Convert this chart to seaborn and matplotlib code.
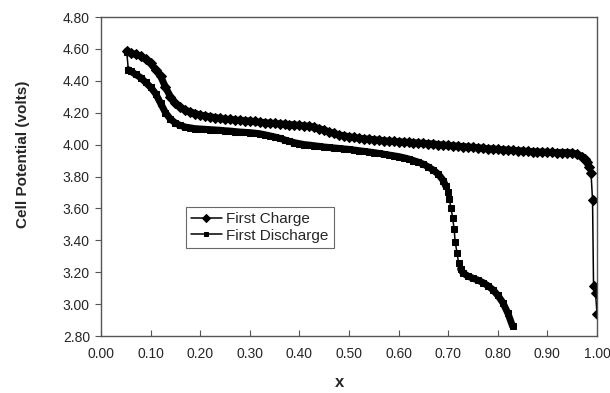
import numpy as np
import pandas as pd
import seaborn as sns
import matplotlib.pyplot as plt

sns.set_style('ticks')
plt.rcParams['font.family'] = ['Liberation Sans', 'DejaVu Sans']

# First charge (upper curve)
charge_x = [0.052, 0.06, 0.07, 0.08, 0.09, 0.10, 0.11, 0.12, 0.13, 0.14,
            0.15, 0.16, 0.17, 0.18, 0.19, 0.20, 0.21, 0.22, 0.23, 0.24,
            0.25, 0.26, 0.27, 0.28, 0.29, 0.30, 0.31, 0.32, 0.33, 0.34,
            0.35, 0.36, 0.37, 0.38, 0.39, 0.40, 0.41, 0.42, 0.43, 0.44,
            0.45, 0.46, 0.47, 0.48, 0.49, 0.50, 0.51, 0.52, 0.53, 0.54,
            0.55, 0.56, 0.57, 0.58, 0.59, 0.60, 0.61, 0.62, 0.63, 0.64,
            0.65, 0.66, 0.67, 0.68, 0.69, 0.70, 0.71, 0.72, 0.73, 0.74,
            0.75, 0.76, 0.77, 0.78, 0.79, 0.80, 0.81, 0.82, 0.83, 0.84,
            0.85, 0.86, 0.87, 0.88, 0.89, 0.90, 0.91, 0.92, 0.93, 0.94,
            0.95, 0.96, 0.97, 0.975, 0.98, 0.984, 0.988, 0.991, 0.993, 0.997,
            1.000]
charge_v = [4.585, 4.575, 4.565, 4.555, 4.535, 4.51, 4.47, 4.43, 4.36, 4.30,
            4.26, 4.235, 4.215, 4.205, 4.195, 4.185, 4.18, 4.175, 4.17, 4.165,
            4.16, 4.158, 4.155, 4.152, 4.15, 4.148, 4.145, 4.14, 4.138, 4.135,
            4.133, 4.13, 4.128, 4.126, 4.124, 4.12, 4.118, 4.115, 4.11, 4.10,
            4.09, 4.08, 4.07, 4.06, 4.055, 4.05, 4.045, 4.04, 4.037, 4.034,
            4.031, 4.028, 4.025, 4.022, 4.02, 4.018, 4.016, 4.014, 4.012, 4.01,
            4.008, 4.006, 4.004, 4.0, 3.998, 3.995, 3.993, 3.99, 3.988, 3.985,
            3.983, 3.98, 3.978, 3.975, 3.973, 3.97, 3.968, 3.966, 3.964, 3.962,
            3.96, 3.958, 3.956, 3.954, 3.953, 3.952, 3.951, 3.95, 3.95, 3.95,
            3.948, 3.94, 3.925, 3.91, 3.89, 3.86, 3.82, 3.65, 3.115, 3.07,
            2.94]

# First discharge (lower curve)
dis_x = [0.052, 0.055, 0.06, 0.07, 0.08, 0.09, 0.10, 0.11, 0.12, 0.13,
         0.14, 0.15, 0.16, 0.17, 0.18, 0.19, 0.20, 0.21, 0.22, 0.23,
         0.24, 0.25, 0.26, 0.27, 0.28, 0.29, 0.30, 0.31, 0.32, 0.33,
         0.34, 0.35, 0.36, 0.37, 0.38, 0.39, 0.40, 0.41, 0.42, 0.43,
         0.44, 0.45, 0.46, 0.47, 0.48, 0.49, 0.50, 0.51, 0.52, 0.53,
         0.54, 0.55, 0.56, 0.57, 0.58, 0.59, 0.60, 0.61, 0.62, 0.63,
         0.64, 0.65, 0.66, 0.67, 0.68, 0.69, 0.695, 0.700, 0.702, 0.706,
         0.709, 0.712, 0.714, 0.718, 0.721, 0.725, 0.73, 0.74, 0.75, 0.76,
         0.77, 0.78, 0.79, 0.80, 0.81, 0.82, 0.83]
dis_v = [4.58, 4.47, 4.46, 4.44, 4.42, 4.39, 4.36, 4.32, 4.26, 4.20,
         4.16, 4.135, 4.12, 4.11, 4.105, 4.10, 4.098, 4.096, 4.094, 4.092,
         4.09, 4.087, 4.085, 4.082, 4.079, 4.077, 4.075, 4.072, 4.068, 4.062,
         4.055, 4.048, 4.04, 4.03, 4.02, 4.012, 4.006, 4.0, 3.997, 3.993,
         3.989, 3.985, 3.982, 3.979, 3.976, 3.973, 3.97, 3.966, 3.962, 3.958,
         3.954, 3.95, 3.945, 3.94, 3.935, 3.93, 3.925, 3.918, 3.91, 3.90,
         3.89, 3.877, 3.86, 3.84, 3.815, 3.775, 3.74, 3.70, 3.657, 3.60,
         3.538, 3.469, 3.391, 3.318, 3.256, 3.22, 3.195, 3.175, 3.162, 3.15,
         3.135, 3.115, 3.09, 3.055, 3.01, 2.945, 2.86]

charge = pd.DataFrame({'x': charge_x, 'v': charge_v})
discharge = pd.DataFrame({'x': dis_x, 'v': dis_v})

fig = plt.figure(figsize=(6.1, 3.93), dpi=100)
ax = fig.add_axes([0.1656, 0.145, 0.8131, 0.8117])

# where the recorded points sit close together they merge into a thick band
band = dict(ax=ax, sort=False, estimator=None, color='black', linewidth=5,
            solid_capstyle='round', solid_joinstyle='round', legend=False)
sns.lineplot(data=charge.iloc[:96], x='x', y='v', **band)
sns.lineplot(data=discharge.iloc[1:67], x='x', y='v', **band)
sns.lineplot(data=discharge.iloc[75:], x='x', y='v', **band)

sns.lineplot(data=charge, x='x', y='v', ax=ax, sort=False, estimator=None,
             color='black', linewidth=1.1, marker='D', markersize=5.5,
             markeredgecolor='black', label='First Charge')
sns.lineplot(data=discharge, x='x', y='v', ax=ax, sort=False, estimator=None,
             color='black', linewidth=1.1, marker='s', markersize=5,
             markeredgecolor='black', label='First Discharge')

ax.set_xlim(0, 1.0)
ax.set_ylim(2.8, 4.8)
ax.set_xticks(np.arange(0, 1.01, 0.1))
ax.set_yticks(np.arange(2.8, 4.81, 0.2))
ax.set_xticklabels([f'{t:.2f}' for t in np.arange(0, 1.01, 0.1)])
ax.set_yticklabels([f'{t:.2f}' for t in np.arange(2.8, 4.81, 0.2)])
ax.tick_params(axis='x', direction='in', length=4, labelsize=10, pad=8, color='#555555')
ax.tick_params(axis='y', direction='out', length=4, labelsize=10, pad=4, color='#555555')
for s in ax.spines.values():
    s.set_visible(True)
    s.set_color('#555555')
    s.set_linewidth(1)

ax.set_xlabel('x', fontsize=12, fontweight='bold')
ax.xaxis.label.set_va('center')
ax.xaxis.set_label_coords(0.48, -0.147)
ax.set_ylabel('Cell Potential (volts)', fontsize=11, fontweight='bold')
ax.yaxis.label.set_va('center')
ax.yaxis.set_label_coords(-0.157, 0.57)

leg = ax.legend(loc='upper left', bbox_to_anchor=(0.171, 0.404), fontsize=11,
                frameon=True, fancybox=False, handlelength=2.0, handletextpad=0.3,
                borderpad=0.35, borderaxespad=0, labelspacing=0.15, markerscale=0.7)
leg.get_frame().set_edgecolor('#444444')
leg.get_frame().set_linewidth(0.8)

fig.savefig('out.png', dpi=100)
